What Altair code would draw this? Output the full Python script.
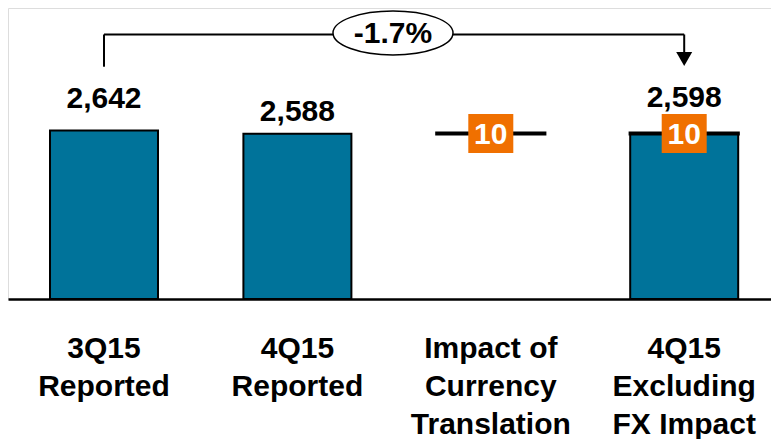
import altair as alt
import pandas as pd

categories = ["3Q15\nReported", "4Q15\nReported", "Impact of\nCurrency\nTranslation", "4Q15\nExcluding\nFX Impact"]
bar_start = [0, 0, 2588, 0]
bar_end = [2642, 2588, 2598, 2588]
fx_start = [None, None, 2588, 2588]
fx_end = [None, None, 2598, 2598]
totals = [2642, 2588, None, 2598]
total_text = ["2,642", "2,588", "", "2,598"]
fx_text = ["", "", "10", "10"]
change_text = "-1.7%"

TEAL = "#00739A"
ORANGE = "#F07000"
FONT = "Liberation Sans"

df = pd.DataFrame({
    "cat": categories,
    "start": bar_start,
    "end": bar_end,
    "fx_start": fx_start,
    "fx_end": fx_end,
    "total": totals,
    "total_text": total_text,
    "fx_text": fx_text,
})
df["fx_mid"] = (df["fx_start"] + df["fx_end"]) / 2

xscale = alt.Scale(domain=categories, paddingInner=0.4416, paddingOuter=0.1934, align=0.5615)
x = alt.X("cat:N", sort=categories, title=None, scale=xscale,
          axis=alt.Axis(labelExpr="split(datum.value, '\\n')", labelAngle=0,
                        labelFont=FONT, labelFontSize=30, labelFontWeight="bold",
                        labelColor="black", labelBaseline="alphabetic", labelLineHeight=38,
                        labelPadding=58, ticks=False, tickSize=0, domainColor="black",
                        domainWidth=2.5, grid=False))
yscale = alt.Scale(domain=[0, 4560], nice=False, zero=True)

def Y(f):
    return alt.Y(f, scale=yscale, axis=None)

def esc(c):
    return c.replace("\n", "\\n")

base = alt.Chart(df)

main_bars = base.transform_filter(f"datum.cat != '{esc(categories[2])}'").mark_bar(
    color=TEAL, stroke="black", strokeWidth=2
).encode(x=x, y=Y("start:Q"), y2="end:Q")

fx_bars = base.transform_filter("isValid(datum.fx_start)").mark_bar(
    color="black", stroke="black", strokeWidth=3.2
).encode(x=x, y=Y("fx_start:Q"), y2="fx_end:Q")

layers = [main_bars, fx_bars]

offsets = {0: -22, 1: -13, 3: -26}
for i, off in offsets.items():
    layers.append(
        base.transform_filter(f"datum.cat == '{esc(categories[i])}'").mark_text(
            font=FONT, fontSize=30, fontWeight="bold", color="black", dy=off, baseline="alphabetic"
        ).encode(x=x, y=Y("total:Q"), text="total_text:N")
    )

fx_box = base.transform_filter("isValid(datum.fx_start)").mark_point(
    shape="M -1 -0.8667 H 1 V 0.8667 H -1 Z", size=2025, filled=True, fill=ORANGE, opacity=1, strokeWidth=0
).encode(x=x, y=Y("fx_mid:Q"))
fx_lab = base.transform_filter("isValid(datum.fx_start)").mark_text(
    font=FONT, fontSize=30, fontWeight="bold", color="white", baseline="middle", dy=1
).encode(x=x, y=Y("fx_mid:Q"), text="fx_text:N")
layers += [fx_box, fx_lab]

# bracket annotation
bracket_level = 4145
left_drop = 3640
right_drop = 3870
arrow_level = 3761
ann = pd.DataFrame({
    "cat": [categories[0], categories[0], categories[3]],
    "cat2": [categories[3], categories[0], categories[3]],
    "y1": [bracket_level, bracket_level, bracket_level],
    "y2": [bracket_level, left_drop, right_drop],
})
rules = alt.Chart(ann).mark_rule(color="black", strokeWidth=2).encode(
    x=x, x2="cat2:N", y=Y("y1:Q"), y2="y2:Q")
arrow = alt.Chart(pd.DataFrame({"cat": [categories[3]], "y": [arrow_level]})).mark_point(
    shape="triangle-down", size=256, filled=True, color="black", opacity=1
).encode(x=x, y=Y("y:Q"))
ell_df = pd.DataFrame({"y": [bracket_level + 25], "t": [change_text]})
ellipse = alt.Chart(ell_df).mark_point(
    shape="M -1 0 A 1 0.3667 0 1 1 1 0 A 1 0.3667 0 1 1 -1 0 Z", size=14400,
    filled=True, fill="white", stroke="black", strokeWidth=1.5, opacity=1
).encode(x=alt.value(385), y=Y("y:Q"))
ell_text = alt.Chart(ell_df).mark_text(
    font=FONT, fontSize=30, fontWeight="bold", color="black", baseline="middle", dy=1
).encode(x=alt.value(385), y=Y("y:Q"), text="t:N")
layers += [rules, arrow, ellipse, ell_text]

chart = alt.layer(*layers).properties(
    width=763, height=291,
    autosize=alt.AutoSizeParams(type="none"),
    padding={"left": 0, "top": 0, "right": 0, "bottom": 140},
).configure_view(strokeWidth=0, stroke="transparent").configure(background="white")

chart.save("out.html", embed_options={"renderer": "svg", "actions": False})
